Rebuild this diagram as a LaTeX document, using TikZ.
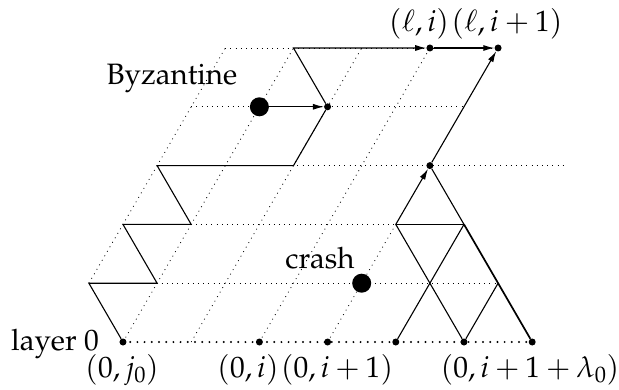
\documentclass[tikz,border=0pt]{standalone}
\usepackage[T1]{fontenc}
\usepackage{mathpazo}
\usetikzlibrary{arrows.meta}
\begin{document}
\begin{tikzpicture}[x={(68.2pt,0pt)}, y={(-34.1pt,58.8pt)},
  grid/.style={line width=0.8pt, dash pattern=on 0.9pt off 4.3pt},
  baseline0/.style={line width=2.2pt, line cap=round, dash pattern=on 0pt off 7.2pt},
  solidpath/.style={line width=1.1pt},
  heavypath/.style={line width=1.7pt},
  arr/.style={solidpath, -{Latex[length=11pt,width=6pt]}},
  dot/.style={circle, fill, inner sep=0pt, minimum size=7pt},
  bigdot/.style={circle, fill, inner sep=0pt, minimum size=19pt},
  lab/.style={anchor=base, inner sep=0pt, font=\fontsize{29.5}{35}\selectfont}]
\useasboundingbox (-123pt,-47pt) rectangle (496pt,342pt);
\foreach \l in {0,...,5}{\foreach \j in {0,...,8}{\coordinate (p-\l-\j) at (\j,\l);}}
% grid
\draw[baseline0] (p-0-0) -- (p-0-6);
\draw[grid] (p-1-0) -- (p-1-6);
\draw[grid] (p-2-1) -- (p-2-6);
\draw[grid] (p-3-2) -- (p-3-8);
\draw[grid] (p-4-3) -- (p-4-7);
\draw[grid] (p-5-4) -- (p-5-8);
\draw[grid] (p-1-0) -- (p-5-4);
\draw[grid] (p-0-0) -- (p-5-5);
\draw[grid] (p-0-1) -- (p-5-6);
\draw[grid] (p-0-2) -- (p-5-7);
\draw[grid] (p-0-3) -- (p-2-5);
% dots
\foreach \j in {0,2,3,4,5,6}{\node[dot] (d-0-\j) at (p-0-\j) {};}
\node[dot] (d-4-5) at (p-4-5) {};
\node[dot] (d-5-7) at (p-5-7) {};
\node[dot] (d-5-8) at (p-5-8) {};
\node[dot] (d-3-6) at (p-3-6) {};
\node[bigdot] (byz) at (p-4-4) {};
\node[bigdot] (crash) at (p-1-4) {};
% left path
\draw[solidpath] (d-0-0) -- (p-1-0) -- (p-1-1) -- (p-2-1) -- (p-2-2) -- (p-3-2) -- (p-3-4) -- (d-4-5);
\draw[arr] (d-4-5) -- (p-5-5) -- (d-5-7);
\draw[arr] (d-5-7) -- (d-5-8);
\draw[arr] (byz) -- (d-4-5);
% right part
\draw[solidpath] (d-0-4) -- (p-2-6);
\draw[solidpath] (d-0-5) -- (p-2-5);
\draw[solidpath] (d-0-5) -- (p-1-6);
\draw[solidpath] (p-2-5) -- (p-2-6);
\draw[solidpath] (p-2-6) -- (d-3-6);
\draw[heavypath] (d-0-6) -- (p-2-6);
\draw[arr] (p-2-5) -- (d-3-6);
\draw[arr] (d-3-6) -- (d-5-8);
% labels
\node[lab] (l0) at (-68pt,-8pt) {layer 0};
\node[lab] (lj0) at (-1pt,-35pt) {$(0,j_0)$};
\node[lab] (li) at (125pt,-35pt) {$(0,i)$};
\node[lab] (li1) at (214pt,-35pt) {$(0,i+1)$};
\node[lab] (lil) at (407pt,-35pt) {$(0,i+1+\lambda_0)$};
\node[lab] (lli) at (296pt,310pt) {$(\ell,i)$};
\node[lab] (lli1) at (384pt,310pt) {$(\ell,i+1)$};
\node[lab] (lbyz) at (49pt,257pt) {Byzantine};
\node[lab] (lcrash) at (197pt,74pt) {crash};
\end{tikzpicture}
\end{document}
